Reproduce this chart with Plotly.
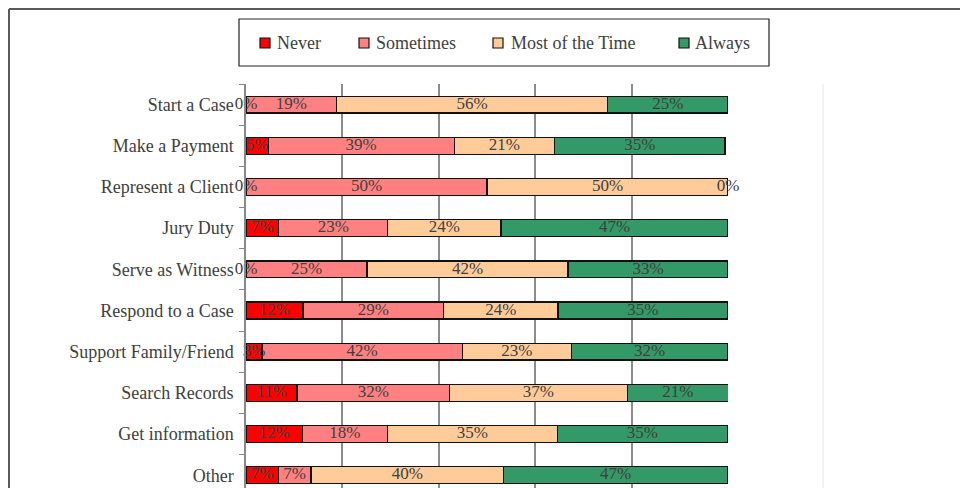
import numpy as np
import plotly.graph_objects as go

# Data
categories = ['Start a Case', 'Make a Payment', 'Represent a Client', 'Jury Duty',
              'Serve as Witness', 'Respond to a Case', 'Support Family/Friend',
              'Search Records', 'Get information', 'Other']
series_names = ['Never', 'Sometimes', 'Most of the Time', 'Always']
never = [0, 4.6, 0, 6.8, 0, 11.8, 3.3, 10.6, 11.7, 6.7]
sometimes = [18.8, 38.6, 50.0, 22.6, 25.1, 29.2, 41.6, 31.6, 17.6, 6.8]
most_of_time = [56.2, 20.8, 50.0, 23.5, 41.7, 23.7, 22.6, 36.9, 35.3, 39.9]
always = [25.0, 35.4, 0, 47.1, 33.2, 35.3, 32.5, 21.0, 35.3, 46.6]
colors = ['#FF0000', '#FF8080', '#FFCC99', '#339966']

FONT = 'Liberation Serif'
TXT = '#404040'

# the page body has an 8px margin, so the figure is shifted by that much
OFF = 8
W, H = 968 - OFF, 488 - OFF
# plot area in page pixels
L, R, T, B = 246, 728, 84, 488


def px(x):
    return (x - L) / (R - L)


def py(y):
    return (B - y) / (B - T)


fig = go.Figure()
values = [never, sometimes, most_of_time, always]
for name, vals, col in zip(series_names, values, colors):
    fig.add_trace(go.Bar(
        y=categories, x=vals, name=name, orientation='h',
        marker=dict(color=col, line=dict(color='#111111', width=1.3)),
        width=0.41, hoverinfo='skip', showlegend=False))

# data labels at the middle of each segment
arr = np.array(values)
ends = arr.cumsum(axis=0)
mids = ends - arr / 2
lab_x, lab_y, lab_t = [], [], []
for s in range(len(series_names)):
    for i, c in enumerate(categories):
        lab_x.append(mids[s, i])
        lab_y.append(c)
        lab_t.append(f'{arr[s, i]:.0f}%')
fig.add_trace(go.Scatter(
    x=lab_x, y=lab_y, text=lab_t, mode='text', showlegend=False,
    textfont=dict(family=FONT, size=17, color=TXT), cliponaxis=False,
    hoverinfo='skip'))

shapes = [
    # outer frame (top and left edges visible)
    dict(type='line', xref='paper', yref='paper', x0=px(9), x1=px(968), y0=py(9), y1=py(9),
         line=dict(color='#5a5a5a', width=2)),
    dict(type='line', xref='paper', yref='paper', x0=px(9), x1=px(9), y0=py(9), y1=py(488),
         line=dict(color='#5a5a5a', width=2)),
    # faint plot-area edge
    dict(type='line', xref='paper', yref='paper', x0=px(823), x1=px(823), y0=py(84), y1=py(488),
         line=dict(color='#e6e6e6', width=1)),
    # legend box
    dict(type='rect', xref='paper', yref='paper', x0=px(239), x1=px(769), y0=py(19), y1=py(66),
         line=dict(color='#222222', width=1.2), fillcolor='rgba(0,0,0,0)'),
]
annotations = []
# legend entries
key_x = [260, 359, 493, 679]
text_x = [275, 374, 509, 693]
for name, col, kx, tx in zip(series_names, colors, key_x, text_x):
    shapes.append(dict(type='rect', xref='paper', yref='paper', x0=px(kx), x1=px(kx + 10),
                       y0=py(38), y1=py(48), fillcolor=col,
                       line=dict(color='#111111', width=1.2)))
    annotations.append(dict(xref='paper', yref='paper', x=px(tx), y=py(43), text=name,
                            showarrow=False, xanchor='left', yanchor='middle',
                            font=dict(family=FONT, size=18, color=TXT)))

fig.update_layout(
    width=W, height=H,
    margin=dict(l=L - OFF, r=W - (R - OFF), t=T - OFF, b=0, autoexpand=False),
    paper_bgcolor='white', plot_bgcolor='white',
    barmode='stack', bargap=0.59,
    font=dict(family=FONT, size=18, color=TXT),
    showlegend=False,
    xaxis=dict(range=[0, 100], dtick=20, showticklabels=False, showgrid=True,
               gridcolor='#8c8c8c', gridwidth=1.5, zeroline=False, showline=False,
               fixedrange=True),
    yaxis=dict(autorange=False, range=[9.31, -0.5], type='category',
               tickson='boundaries', ticks='outside', ticklen=5, tickcolor='#888888',
               showline=True, linecolor='#888888', linewidth=1.5, showgrid=False,
               ticklabelstandoff=7, tickfont=dict(family=FONT, size=18, color=TXT),
               automargin=False),
    shapes=shapes,
    annotations=annotations,
)

fig.write_html('out.html')
